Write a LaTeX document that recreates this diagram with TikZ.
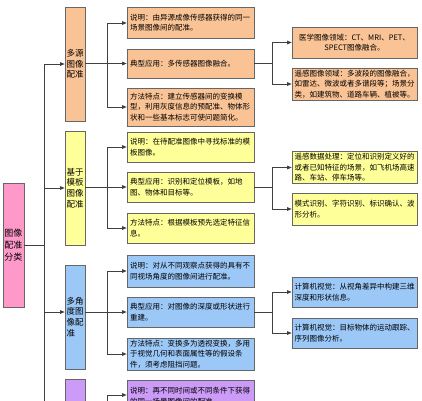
\documentclass[tikz,border=0pt]{standalone}
\usepackage{fontspec}
\setmainfont{Noto Sans CJK SC}
\usetikzlibrary{arrows.meta}
\definecolor{corange}{HTML}{FAC395}
\definecolor{cyellow}{HTML}{FFFF99}
\definecolor{cblue}{HTML}{9CC8F8}
\definecolor{cpurple}{HTML}{CC9BF7}
\definecolor{cpink}{HTML}{FF99C9}
\definecolor{bordc}{HTML}{666666}
\definecolor{linec}{HTML}{404040}
\tikzset{
  box/.style={draw=bordc, line width=0.7pt, inner ysep=2pt, anchor=center},
  det/.style={box, inner xsep=3pt, text width=121pt, align=left, font=\fontsize{7.5}{10.5}\selectfont},
  app/.style={box, inner xsep=2.5pt, text width=120pt, align=left, font=\fontsize{7.5}{10.5}\selectfont},
  cat/.style={box, inner xsep=1.5pt, text width=17pt, align=left, font=\fontsize{8.5}{10.7}\selectfont, minimum height=#1},
  conn/.style={draw=linec, line width=0.7pt},
  arr/.style={conn, -{Triangle[length=4.5pt,width=3.6pt]}},
}
\begin{document}
\begin{tikzpicture}[x=1pt,y=-1pt]
\useasboundingbox (0,0) rectangle (422,400);
\clip (0,0) rectangle (422,400);
% root
\node[box, fill=cpink, inner xsep=1.5pt, text width=18pt, align=left, minimum height=124pt, font=\fontsize{9}{12}\selectfont] (root) at (13.5,245) {图像\\配准\\分类};
% categories
\node[cat=114pt, fill=corange] (c1) at (75,64) {多源\\图像\\配准};
\node[cat=114pt, fill=cyellow] (c2) at (75,188) {基于\\模板\\图像\\配准};
\node[cat=104pt, fill=cblue] (c3) at (75,317) {多角\\度图\\像配\\准};
\node[cat=102pt, fill=cpurple] (c4) at (75,430) {};
% details
\node[det, fill=corange, minimum height=31pt] (o1) at (190.5,22.5) {说明：由异源成像传感器获得的同一\\场景图像间的配准。};
\node[det, fill=corange, minimum height=29pt] (o2) at (190.5,63.5) {典型应用：多传感器图像融合。};
\node[det, fill=corange, minimum height=38pt] (o3) at (190.5,107) {方法特点：建立传感器间的变换模\\型，利用灰度信息的预配准、物体形\\状和一些基本标志可使问题简化。};
\node[det, fill=cyellow, minimum height=30pt] (y1) at (190.5,147) {说明：在待配准图像中寻找标准的模\\板图像。};
\node[det, fill=cyellow, minimum height=30pt] (y2) at (190.5,187) {典型应用：识别和定位模板，如地\\图、物体和目标等。};
\node[det, fill=cyellow, minimum height=30pt] (y3) at (190.5,228) {方法特点：根据模板预先选定特征信\\息。};
\node[det, fill=cblue, minimum height=32pt] (b1) at (190.5,271) {说明：对从不同观察点获得的具有不\\同视场角度的图像间进行配准。};
\node[det, fill=cblue, minimum height=30pt] (b2) at (190.5,312) {典型应用：对图像的深度或形状进行\\重建。};
\node[det, fill=cblue, minimum height=32pt] (b3) at (190.5,354) {方法特点：变换多为透视变换，多用\\于视觉几何和表面属性等的假设条\\件，须考虑阻挡问题。};
\node[det, fill=cpurple, minimum height=32pt] (p1) at (190.5,396) {说明：再不同时间或不同条件下获得\\的同一场景图像间的配准。};
% applications
\node[app, fill=corange, minimum height=31pt, align=center] (oa1) at (354.5,42.5) {医学图像领域：CT、MRI、PET、\\SPECT图像融合。};
\node[app, fill=corange, minimum height=32pt] (oa2) at (354.5,84) {遥感图像领域：多波段的图像融合，\\如雷达、微波或者多谱段等；场景分\\类，如建筑物、道路车辆、植被等。};
\node[app, fill=cyellow, minimum height=31pt] (ya1) at (354.5,167.5) {遥感数据处理：定位和识别定义好的\\或者已知特征的场景，如飞机场高速\\路、车站、停车场等。};
\node[app, fill=cyellow, minimum height=32pt] (ya2) at (354.5,209) {模式识别、字符识别、标识确认、波\\形分析。};
\node[app, fill=cblue, minimum height=30pt] (ba1) at (354.5,292) {计算机视觉：从视角差异中构建三维\\深度和形状信息。};
\node[app, fill=cblue, minimum height=30pt] (ba2) at (354.5,333) {计算机视觉：目标物体的运动跟踪、\\序列图像分析。};
% trunk
\coordinate (rj) at (44,245);
\coordinate (t1) at (44,64);
\coordinate (t2) at (44,188);
\coordinate (t3) at (44,312);
\coordinate (t4) at (44,430);
\coordinate (tb) at (44,480);
\draw[conn] (root.east |- rj) -- (rj);
\draw[conn] (t1) -- (tb);
\draw[arr] (t1) -- (t1 -| c1.west);
\draw[arr] (t2) -- (t2 -| c2.west);
\draw[arr] (t3) -- (t3 -| c3.west);
\draw[arr] (t4) -- (t4 -| c4.west);
% detail connectors
\coordinate (oj1) at (107,23);
\coordinate (oj3) at (107,107);
\draw[conn] (oj1) -- (oj3);
\draw[arr] (oj1) -- (oj1 -| o1.west);
\draw[arr] (c1.east |- o2) -- (o2.west);
\draw[arr] (oj3) -- (oj3 -| o3.west);
\coordinate (yj1) at (107,147);
\coordinate (yj3) at (107,228);
\draw[conn] (yj1) -- (yj3);
\draw[arr] (yj1) -- (yj1 -| y1.west);
\draw[arr] (c2.east |- y2) -- (y2.west);
\draw[arr] (yj3) -- (yj3 -| y3.west);
\coordinate (bj1) at (107,271);
\coordinate (bj3) at (107,354);
\draw[conn] (bj1) -- (bj3);
\draw[arr] (bj1) -- (bj1 -| b1.west);
\draw[arr] (c3.east |- b2) -- (b2.west);
\draw[arr] (bj3) -- (bj3 -| b3.west);
\coordinate (pj1) at (107,395);
\coordinate (pj3) at (107,480);
\draw[conn] (pj1) -- (pj3);
\draw[arr] (pj1) -- (pj1 -| p1.west);
% application connectors
\coordinate (oaj1) at (272,42.5);
\coordinate (oaj2) at (272,84);
\draw[conn] (o2.east) -- (o2.east -| oaj1);
\draw[conn] (oaj1) -- (oaj2);
\draw[arr] (oaj1) -- (oa1.west);
\draw[arr] (oaj2) -- (oa2.west);
\coordinate (yaj1) at (272,167.5);
\coordinate (yaj2) at (272,209);
\draw[conn] (y2.east) -- (y2.east -| yaj1);
\draw[conn] (yaj1) -- (yaj2);
\draw[arr] (yaj1) -- (ya1.west);
\draw[arr] (yaj2) -- (ya2.west);
\coordinate (baj1) at (272,292);
\coordinate (baj2) at (272,333);
\draw[conn] (b2.east) -- (b2.east -| baj1);
\draw[conn] (baj1) -- (baj2);
\draw[arr] (baj1) -- (ba1.west);
\draw[arr] (baj2) -- (ba2.west);
\end{tikzpicture}
\end{document}
